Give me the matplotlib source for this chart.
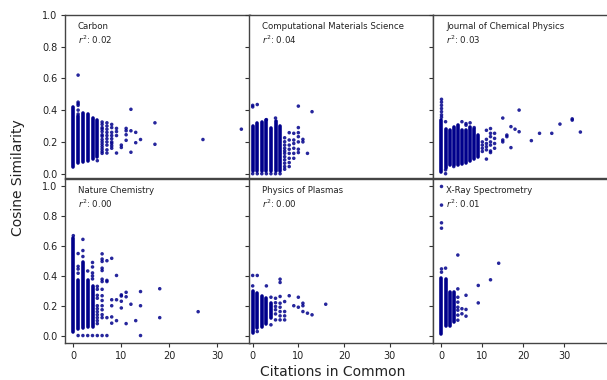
import matplotlib
matplotlib.use("Agg")
import matplotlib.pyplot as plt

W, H = 607, 380
DPI = 100

journals = ["Carbon", "Computational Materials Science", "Journal of Chemical Physics",
            "Nature Chemistry", "Physics of Plasmas", "X-Ray Spectrometry"]
r2_values = [0.02, 0.04, 0.03, 0.00, 0.00, 0.01]
x_ticks = [0, 10, 20, 30]
y_ticks = [0.0, 0.2, 0.4, 0.6, 0.8, 1.0]

# dense columns: citations in common, lowest and highest similarity
carbon_dense_x = [0, 1, 2, 3, 4, 5]
carbon_dense_lo = [0.04, 0.07, 0.075, 0.08, 0.095, 0.107]
carbon_dense_hi = [0.418, 0.36, 0.38, 0.375, 0.35, 0.335]
carbon_points = {
    1: [0.62, 0.45, 0.44, 0.43, 0.40, 0.375],
    5: [0.082],
    6: [0.325, 0.31, 0.29, 0.28, 0.265, 0.245, 0.235, 0.215, 0.20, 0.185, 0.17, 0.155, 0.14, 0.128],
    7: [0.32, 0.30, 0.28, 0.26, 0.24, 0.22, 0.20, 0.18, 0.15, 0.13],
    8: [0.31, 0.29, 0.26, 0.24, 0.22, 0.20, 0.19, 0.175, 0.16],
    9: [0.285, 0.265, 0.24, 0.13],
    10: [0.18, 0.165],
    11: [0.285, 0.27, 0.245, 0.21],
    12: [0.405, 0.27, 0.135],
    13: [0.26, 0.195],
    14: [0.215],
    17: [0.32, 0.185],
    27: [0.215],
    35: [0.28],
}

cms_dense_x = [0, 1, 2, 3, 4, 5, 6]
cms_dense_lo = [0.015, 0.015, 0.015, 0.015, 0.015, 0.015, 0.015]
cms_dense_hi = [0.30, 0.317, 0.327, 0.338, 0.285, 0.33, 0.30]
cms_points = {
    0: [0.43, 0.42, 0.0],
    1: [0.435, 0.0],
    2: [0.0],
    3: [0.34, 0.0],
    4: [0.0],
    5: [0.35, 0.0],
    6: [0.0],
    7: [0.226, 0.201, 0.18, 0.16, 0.143, 0.128, 0.107, 0.087, 0.066, 0.045, 0.028],
    8: [0.258, 0.212, 0.18, 0.154, 0.128, 0.097, 0.07, 0.045],
    9: [0.254, 0.212, 0.19, 0.16, 0.128, 0.097],
    10: [0.425, 0.29, 0.258, 0.233, 0.20, 0.154, 0.133],
    11: [0.216, 0.20],
    12: [0.128],
    13: [0.39],
}

jcp_dense_x = [0, 1, 2, 3, 4, 5, 6, 7, 8, 9]
jcp_dense_lo = [0.013, 0.034, 0.055, 0.055, 0.055, 0.06, 0.068, 0.08, 0.095, 0.107]
jcp_dense_hi = [0.34, 0.28, 0.275, 0.296, 0.306, 0.275, 0.275, 0.296, 0.28, 0.243]
jcp_points = {
    0: [0.468, 0.45, 0.43, 0.41, 0.39, 0.37, 0.355],
    1: [0.327, 0.024, 0.0],
    3: [0.045],
    5: [0.327],
    6: [0.315, 0.305],
    7: [0.32],
    8: [0.29],
    10: [0.20, 0.18, 0.16, 0.14],
    11: [0.273, 0.216, 0.19, 0.17, 0.15, 0.092],
    12: [0.284, 0.254, 0.233, 0.20, 0.18, 0.143, 0.133],
    13: [0.254, 0.222, 0.19, 0.16],
    15: [0.35, 0.212, 0.20],
    16: [0.243, 0.233],
    17: [0.296, 0.164],
    18: [0.28],
    19: [0.40, 0.264],
    22: [0.208],
    24: [0.254],
    27: [0.254],
    29: [0.312],
    32: [0.345, 0.337],
    34: [0.262],
}

nc_dense_x = [0, 1, 2, 3, 4]
nc_dense_lo = [0.027, 0.043, 0.05, 0.06, 0.06]
nc_dense_hi = [0.655, 0.374, 0.49, 0.374, 0.33]
nc_points = {
    0: [0.67],
    1: [0.55, 0.464, 0.446, 0.418, 0.0],
    2: [0.645, 0.57, 0.53, 0.0],
    3: [0.433, 0.0],
    4: [0.49, 0.46, 0.42, 0.40, 0.38, 0.0],
    5: [0.33, 0.31, 0.27, 0.25, 0.20, 0.18, 0.16, 0.14, 0.12, 0.10, 0.08, 0.0],
    6: [0.548, 0.513, 0.497, 0.452, 0.436, 0.378, 0.362, 0.31, 0.267, 0.235, 0.20, 0.173, 0.14, 0.12, 0.0],
    7: [0.502, 0.37, 0.362, 0.12, 0.0],
    8: [0.518, 0.24, 0.20, 0.125, 0.083],
    9: [0.403, 0.24, 0.10],
    10: [0.273, 0.265, 0.23, 0.185],
    11: [0.29, 0.26, 0.08],
    12: [0.21],
    13: [0.10],
    14: [0.295, 0.20, 0.0],
    18: [0.314, 0.12],
    26: [0.16],
}

pop_dense_x = [0, 1, 2, 3, 4]
pop_dense_lo = [0.016, 0.05, 0.06, 0.08, 0.12]
pop_dense_hi = [0.302, 0.284, 0.265, 0.25, 0.22]
pop_points = {
    0: [0.403, 0.333],
    1: [0.403, 0.027],
    3: [0.333],
    4: [0.257, 0.072],
    5: [0.25, 0.22, 0.195, 0.173, 0.145, 0.105],
    6: [0.378, 0.356, 0.262, 0.217, 0.19, 0.161, 0.132, 0.105],
    7: [0.228, 0.161, 0.132, 0.105],
    8: [0.267],
    9: [0.20],
    10: [0.257, 0.19],
    11: [0.217, 0.20, 0.161],
    12: [0.15],
    13: [0.139],
    16: [0.21],
}

xrs_dense_x = [0, 1, 2, 3]
xrs_dense_lo = [0.011, 0.066, 0.066, 0.088]
xrs_dense_hi = [0.385, 0.38, 0.29, 0.29]
xrs_points = {
    0: [1.0, 0.875, 0.756, 0.72, 0.447, 0.425],
    1: [0.452],
    4: [0.54, 0.313, 0.257, 0.224, 0.19, 0.17, 0.137, 0.103],
    5: [0.18, 0.146],
    6: [0.27, 0.175, 0.13],
    9: [0.336, 0.219],
    12: [0.374],
    14: [0.485],
}

dense_x = [carbon_dense_x, cms_dense_x, jcp_dense_x, nc_dense_x, pop_dense_x, xrs_dense_x]
dense_lo = [carbon_dense_lo, cms_dense_lo, jcp_dense_lo, nc_dense_lo, pop_dense_lo, xrs_dense_lo]
dense_hi = [carbon_dense_hi, cms_dense_hi, jcp_dense_hi, nc_dense_hi, pop_dense_hi, xrs_dense_hi]
points = [carbon_points, cms_points, jcp_points, nc_points, pop_points, xrs_points]

# layout (pixel boxes: left, right, top, bottom)
col_px = [(65, 250), (249, 433), (433, 620)]
row_px = [(14.7, 178), (179, 343)]
col_xlim = [(-1.73, 36.8), (-0.81, 39.5), (-2.08, 43.7)]
row_ylim = [(-0.027, 1.0), (-0.05, 1.05)]

COLOR = "#00008B"
fig = plt.figure(figsize=(W / DPI, H / DPI), dpi=DPI)

for i in range(6):
    r, c = divmod(i, 3)
    l, rr = col_px[c]
    t, b = row_px[r]
    ax = fig.add_axes([l / W, 1 - b / H, (rr - l) / W, (b - t) / H])
    ax.vlines(dense_x[i], dense_lo[i], dense_hi[i], color=COLOR, linewidth=2.6,
              capstyle="round", zorder=2)
    px, py = [], []
    for k, ys in points[i].items():
        px.extend([k] * len(ys))
        py.extend(ys)
    ax.scatter(px, py, s=6.5, color=COLOR, edgecolors="none", alpha=0.85, zorder=3)
    ax.set_xlim(*col_xlim[c])
    ax.set_ylim(*row_ylim[r])
    ax.set_xticks(x_ticks)
    ax.set_yticks(y_ticks)
    ax.tick_params(labelsize=7, length=3, width=0.8, color="#333333", labelcolor="#222222", pad=2.5)
    if r == 0:
        ax.tick_params(labelbottom=False)
    if c > 0:
        ax.tick_params(labelleft=False)
    for sp in ax.spines.values():
        sp.set_color("#444444")
        sp.set_linewidth(1.0)
    ax.text(0.07, 0.955, f"{journals[i]}\n$r^2$: {r2_values[i]:.2f}", transform=ax.transAxes,
            ha="left", va="top", fontsize=6.2, color="#222222", linespacing=1.25)

fig.text(18 / W, 1 - 178 / H, "Cosine Similarity", rotation=90, ha="center", va="center",
         fontsize=10, color="#222222")
fig.text(333 / W, 1 - 372 / H, "Citations in Common", ha="center", va="center",
         fontsize=10, color="#222222")

fig.savefig("out.png", dpi=DPI)
